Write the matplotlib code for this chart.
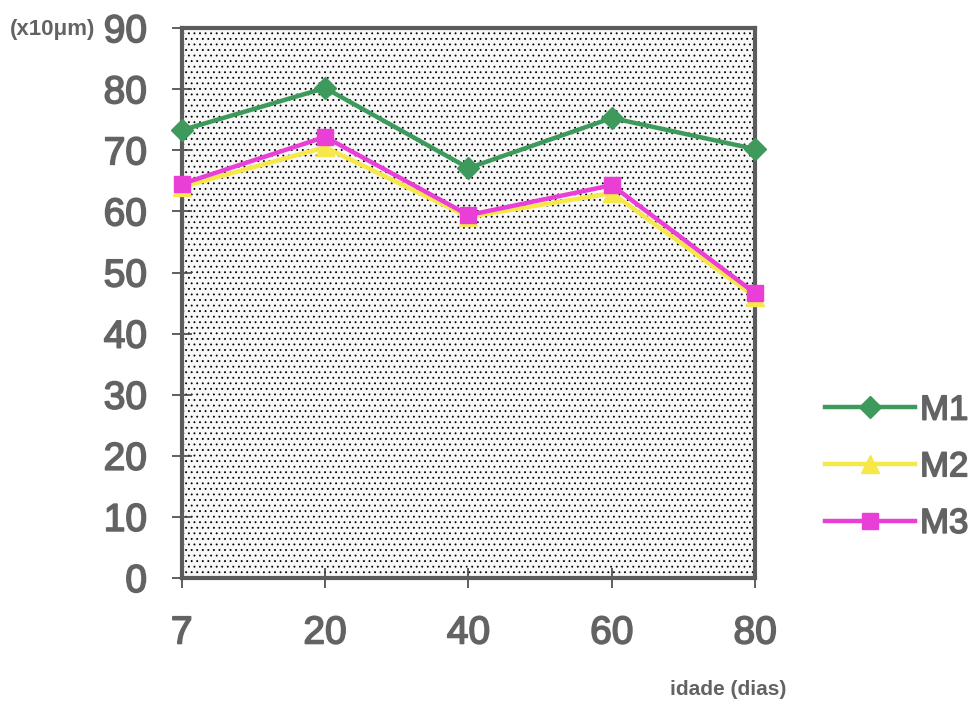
import numpy as np
import matplotlib.pyplot as plt
import matplotlib.patheffects as pe
from matplotlib.patches import Rectangle

# data
idade = ['7', '20', '40', '60', '80']
m1 = [73.3, 80.2, 67.1, 75.3, 70.2]
m2 = [64.0, 70.5, 59.1, 63.0, 46.0]
m3 = [64.5, 72.2, 59.4, 64.3, 46.6]

txt = '#636363'
heavy = [pe.withStroke(linewidth=1.2, foreground=txt)]
plt.rcParams['font.family'] = ['Liberation Sans', 'DejaVu Sans']
plt.rcParams['hatch.color'] = '#c2c2c2'
plt.rcParams['hatch.linewidth'] = 0.6

fig = plt.figure(figsize=(9.77, 7.04), dpi=100)
ax = fig.add_axes([0.186, 0.179, 0.587, 0.781])
x = np.arange(len(idade))

ax.set_facecolor('#f8f8f8')
ax.add_patch(Rectangle((0, 0), 1, 1, transform=ax.transAxes, fill=False,
                       hatch='...', lw=0, zorder=0))

ax.plot(x, m2, color='#f7e84a', lw=3.2, marker='^', ms=13, label='M2', zorder=3, clip_on=False)
ax.plot(x, m3, color='#e93fd6', lw=3.2, marker='s', ms=11, label='M3', zorder=4, clip_on=False)
ax.plot(x, m1, color='#3e9a5c', lw=3.2, marker='D', ms=11, label='M1', zorder=5, clip_on=False)

ax.set_xlim(0, 4)
ax.set_ylim(0, 90)
ax.set_xticks(x)
ax.set_xticklabels(idade)
ax.set_yticks(range(0, 91, 10))
for s in ax.spines.values():
    s.set_color('#5c5c5c')
    s.set_linewidth(3)
ax.tick_params(direction='inout', length=14, width=1.2, color='#444444',
               labelsize=28, labelcolor=txt)
ax.tick_params(axis='x', pad=20)
ax.tick_params(axis='y', pad=18)
for lab in ax.get_xticklabels() + ax.get_yticklabels():
    lab.set_path_effects(heavy)

fig.text(0.01, 0.958, '(x10μm)', fontsize=16, fontweight='bold', color=txt, va='center')
fig.text(0.686, 0.02, 'idade (dias)', fontsize=15, fontweight='bold', color=txt, va='center')

h, l = ax.get_legend_handles_labels()
order = [2, 0, 1]
leg = fig.legend([h[i] for i in order], [l[i] for i in order], loc='center left',
                 bbox_to_anchor=(0.844, 0.337), frameon=False, fontsize=25,
                 handlelength=2.6, labelspacing=0.68, handletextpad=0.15,
                 borderpad=0, borderaxespad=0)
for t in leg.get_texts():
    t.set_color(txt)
    t.set_path_effects(heavy)

fig.savefig('out.png', dpi=100)
